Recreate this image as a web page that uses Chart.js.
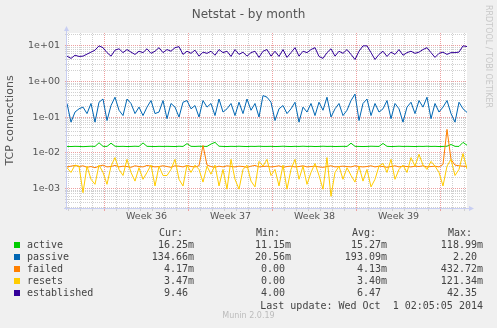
<!DOCTYPE html>
<html>
<head>
<meta charset="utf-8">
<script src="https://cdn.jsdelivr.net/npm/chart.js@4"></script>
<style>
  html, body { margin: 0; padding: 0; background: #f0f0f0; }
  #wrap { position: relative; width: 497px; height: 328px; overflow: hidden; }
  #chart { position: absolute; left: 0; top: 0; }
  .txt { position: absolute; white-space: pre; line-height: 12px; }
  .mono { font: 10px 'DejaVu Sans Mono', monospace; color: #444; }
  .box { position: absolute; width: 6px; height: 6px; }
</style>
</head>
<body>
<div id="wrap">
  <canvas id="chart" width="497" height="328"></canvas>
  <div class="txt" id="title" style="left:0;width:497px;text-align:center;top:7px;font:12px 'DejaVu Sans';color:#555;">Netstat - by month</div>
  <div class="txt" id="rrd" style="left:483px;top:5px;writing-mode:vertical-rl;font:8px 'DejaVu Sans';color:#c8c8c8;line-height:10px;">RRDTOOL / TOBI OETIKER</div>
  <div id="legend"></div>
  <div class="txt mono" id="updated" style="right:14px;top:300px;"></div>
  <div class="txt" id="munin" style="left:0;width:497px;text-align:center;top:311px;font:8px 'DejaVu Sans';color:#bcbcbc;">Munin 2.0.19</div>
</div>
<script>
// x axis: one point every 4px, 12px per day, 400px wide plot
const spanDays = 400 / 12;
const weekStart = 3.13;          // first week boundary, in days from left edge
const weekLabels = ['Week 36', 'Week 37', 'Week 38', 'Week 39'];

const seriesNames = ['active', 'passive', 'failed', 'resets', 'established'];
const seriesColors = ['#00cc00', '#0066b3', '#ff8000', '#ffcc00', '#330099'];

const active = [
  0.0150,0.0149,0.0151,0.0150,0.0148,0.0150,0.0152,0.0150,0.0190,0.0151,0.0150,0.0185,0.0152,0.0150,0.0151,0.0149,0.0150,0.0152,0.0150,0.0188,0.0151,0.0150,0.0149,0.0151,0.0150,
  0.0151,0.0150,0.0149,0.0152,0.0150,0.0180,0.0151,0.0150,0.0152,0.0151,0.0150,0.0175,0.0195,0.0152,0.0150,0.0149,0.0151,0.0150,0.0152,0.0150,0.0149,0.0151,0.0150,0.0152,0.0150,
  0.0150,0.0151,0.0149,0.0150,0.0152,0.0150,0.0149,0.0151,0.0150,0.0152,0.0150,0.0151,0.0149,0.0150,0.0152,0.0150,0.0151,0.0149,0.0150,0.0151,0.0150,0.0185,0.0151,0.0150,0.0149,
  0.0150,0.0152,0.0151,0.0150,0.0182,0.0151,0.0149,0.0150,0.0152,0.0150,0.0151,0.0150,0.0149,0.0151,0.0150,0.0152,0.0150,0.0151,0.0149,0.0150,0.0152,0.0170,0.0151,0.0150,0.0195,0.0162
];
const passive = [
  0.24,0.072,0.138,0.17,0.19,0.125,0.24,0.072,0.26,0.32,0.08,0.21,0.36,0.155,0.11,0.32,0.24,0.125,0.19,0.11,0.19,0.29,0.125,0.138,0.29,
  0.09,0.24,0.19,0.10,0.26,0.29,0.17,0.21,0.10,0.29,0.19,0.24,0.11,0.32,0.138,0.17,0.24,0.11,0.26,0.125,0.32,0.155,0.24,0.10,0.40,
  0.36,0.26,0.08,0.17,0.21,0.125,0.17,0.26,0.072,0.19,0.138,0.24,0.11,0.26,0.155,0.36,0.10,0.17,0.24,0.11,0.155,0.29,0.44,0.08,0.24,
  0.32,0.11,0.24,0.138,0.17,0.29,0.09,0.24,0.17,0.072,0.19,0.26,0.125,0.29,0.19,0.36,0.09,0.24,0.138,0.19,0.29,0.125,0.072,0.26,0.17,0.135
];
const failed = [
  0.0040,0.0042,0.0044,0.0041,0.0043,0.0039,0.0041,0.0038,0.0042,0.0045,0.0040,0.0041,0.0044,0.0040,0.0042,0.0041,0.0039,0.0043,0.0041,0.0040,0.0044,0.0042,0.0040,0.0041,0.0043,
  0.0041,0.0039,0.0043,0.0042,0.0040,0.0044,0.0041,0.0040,0.0043,0.0160,0.0045,0.0041,0.0039,0.0042,0.0040,0.0043,0.0041,0.0040,0.0042,0.0041,0.0039,0.0042,0.0044,0.0040,0.0041,
  0.0042,0.0040,0.0041,0.0043,0.0039,0.0041,0.0042,0.0040,0.0041,0.0043,0.0040,0.0041,0.0042,0.0040,0.0039,0.0041,0.0043,0.0040,0.0041,0.0042,0.0041,0.0040,0.0043,0.0041,0.0040,
  0.0041,0.0043,0.0040,0.0042,0.0041,0.0039,0.0041,0.0043,0.0040,0.0042,0.0041,0.0040,0.0042,0.0041,0.0043,0.0040,0.0041,0.0042,0.0040,0.0047,0.0450,0.0065,0.0045,0.0043,0.0042,0.0041
];
const resets = [
  0.0038,0.0028,0.0045,0.0042,0.00076,0.0042,0.0018,0.0013,0.0045,0.0028,0.0013,0.0042,0.0073,0.0034,0.0023,0.0065,0.0028,0.0016,0.0038,0.0018,0.0028,0.0045,0.00117,0.0042,0.0023,
  0.0023,0.0034,0.0065,0.0018,0.00117,0.0045,0.0028,0.0045,0.0034,0.0015,0.0042,0.0025,0.0045,0.00117,0.0034,0.00095,0.0065,0.0018,0.00095,0.0034,0.0045,0.0016,0.0011,0.0057,0.0042,
  0.0065,0.0023,0.0034,0.00117,0.0045,0.00095,0.0034,0.0065,0.0018,0.0042,0.0013,0.0028,0.0050,0.0023,0.00095,0.0073,0.0006,0.0028,0.0042,0.0018,0.0038,0.0023,0.0015,0.0042,0.0016,
  0.0034,0.0011,0.0018,0.0042,0.0050,0.0028,0.0065,0.0018,0.0034,0.0045,0.0028,0.0073,0.0042,0.0090,0.0045,0.0034,0.0057,0.0042,0.0028,0.00117,0.0042,0.0065,0.0023,0.0034,0.0095,0.0035
];
const established = [
  5.1,4.4,5.4,5.0,5.1,5.8,6.6,7.5,9.9,8.8,6.4,5.1,7.5,8.2,6.4,7.8,6.6,5.7,7.0,6.4,8.2,6.1,7.0,8.8,6.4,
  7.8,7.0,8.8,9.4,5.7,7.0,6.1,7.5,5.1,6.6,6.1,7.0,5.4,7.8,6.4,7.0,5.0,7.8,5.7,6.6,5.1,6.4,7.0,4.7,7.0,
  7.8,5.1,7.0,5.0,7.8,4.7,6.4,8.8,5.1,7.0,6.4,7.8,8.8,5.0,4.4,6.4,8.2,5.1,7.0,6.1,7.8,5.7,4.1,7.0,9.9,
  9.9,6.4,4.1,5.7,7.0,5.0,6.6,5.7,7.8,5.4,6.4,7.0,6.1,6.6,7.8,8.8,6.4,4.7,6.1,6.6,5.7,6.4,6.4,6.6,9.9,9.46
];

const legendCur = ['16.25m', '134.66m', '4.17m', '3.47m', '9.46 '];
const legendMin = ['11.15m', '20.56m', '0.00 ', '0.00 ', '4.00 '];
const legendAvg = ['15.27m', '193.09m', '4.13m', '3.40m', '6.47 '];
const legendMax = ['118.99m', '2.20 ', '432.72m', '121.34m', '42.35 '];
const lastUpdate = 'Last update: Wed Oct  1 02:05:05 2014';

const allSeries = [active, passive, failed, resets, established];

const majorColor = '#eda0a0';
const minorColor = '#d0d0d0';
const axisColor = '#c8cef2';

function isDecade(v) {
  const l = Math.log10(v);
  return Math.abs(l - Math.round(l)) < 1e-6;
}
function fmtExp(v) {
  const e = Math.round(Math.log10(v));
  return '1e' + (e < 0 ? '-' : '+') + String(Math.abs(e)).padStart(2, '0');
}
function isWeekLine(v) {
  const d = (v - weekStart) / 7;
  return Math.abs(d - Math.round(d)) < 1e-6;
}
const labelPos = weekLabels.map((_, i) => weekStart + 3.5 + 7 * i);
function labelIndex(v) {
  return labelPos.findIndex(p => Math.abs(p - v) < 1e-6);
}

const step = spanDays / (active.length - 1);

const datasets = seriesNames.map((name, i) => ({
  label: name,
  data: allSeries[i].map((v, j) => ({ x: j * step, y: v })),
  borderColor: seriesColors[i],
  borderWidth: 1,
  pointRadius: 0,
  tension: 0,
  fill: false,
  order: 5 - i
}));

const plotDecor = {
  id: 'plotDecor',
  beforeDraw(chart) {
    const { ctx, chartArea: a } = chart;
    ctx.save();
    ctx.fillStyle = '#ffffff';
    ctx.fillRect(a.left, a.top, a.right - a.left, a.bottom - a.top);
    ctx.restore();
  },
  afterDraw(chart) {
    const { ctx, chartArea: a } = chart;
    ctx.save();
    ctx.strokeStyle = axisColor;
    ctx.fillStyle = axisColor;
    ctx.lineWidth = 1;
    ctx.beginPath();
    ctx.moveTo(a.left - 0.5, a.bottom + 2);
    ctx.lineTo(a.left - 0.5, a.top - 4);
    ctx.moveTo(a.left - 3, a.bottom + 0.5);
    ctx.lineTo(a.right + 4, a.bottom + 0.5);
    ctx.stroke();
    // arrow heads
    ctx.beginPath();
    ctx.moveTo(a.left - 0.5, a.top - 7);
    ctx.lineTo(a.left - 3, a.top - 2);
    ctx.lineTo(a.left + 2, a.top - 2);
    ctx.closePath();
    ctx.fill();
    ctx.beginPath();
    ctx.moveTo(a.right + 7, a.bottom + 0.5);
    ctx.lineTo(a.right + 2, a.bottom - 2);
    ctx.lineTo(a.right + 2, a.bottom + 3);
    ctx.closePath();
    ctx.fill();
    ctx.restore();
  }
};

new Chart(document.getElementById('chart'), {
  type: 'line',
  data: { datasets },
  plugins: [plotDecor],
  options: {
    responsive: false,
    animation: false,
    devicePixelRatio: 1,
    layout: { padding: { left: 0, top: 33, right: 30, bottom: 100 } },
    plugins: { legend: { display: false }, tooltip: { enabled: false } },
    scales: {
      x: {
        type: 'linear',
        min: 0,
        max: spanDays,
        afterFit: s => { s.height = 20; },
        afterBuildTicks: s => {
          const ticks = [];
          for (let d = weekStart - 3; d <= spanDays; d += 1) ticks.push({ value: Math.round(d * 100) / 100 });
          labelPos.forEach(p => ticks.push({ value: p }));
          ticks.sort((a, b) => a.value - b.value);
          s.ticks = ticks;
        },
        ticks: {
          autoSkip: false,
          maxRotation: 0,
          padding: 0,
          color: '#555',
          font: { family: 'DejaVu Sans', size: 9.5 },
          callback: v => { const k = labelIndex(v); return k >= 0 ? weekLabels[k] : ''; }
        },
        grid: {
          color: c => (c.tick && labelIndex(c.tick.value) >= 0) ? 'transparent' : (c.tick && isWeekLine(c.tick.value) ? majorColor : minorColor),
          tickColor: c => (c.tick && labelIndex(c.tick.value) >= 0) ? 'transparent' : (c.tick && isWeekLine(c.tick.value) ? majorColor : minorColor),
          tickLength: 3,
          lineWidth: 1
        },
        border: { display: false, dash: [1, 1] }
      },
      y: {
        type: 'logarithmic',
        min: 2.82e-4,
        max: 22.7,
        afterFit: s => { s.width = 67; },
        afterBuildTicks: s => {
          const ticks = [];
          for (let e = -4; e <= 1; e++) {
            for (let k = 1; k <= 9; k++) {
              const v = k * Math.pow(10, e);
              if (v >= s.min && v <= s.max) ticks.push({ value: v });
            }
          }
          s.ticks = ticks;
        },
        ticks: {
          autoSkip: false,
          padding: 5,
          color: '#555',
          font: { family: 'DejaVu Sans', size: 9.5 },
          callback: v => isDecade(v) ? fmtExp(v) : ''
        },
        grid: {
          color: c => (c.tick && isDecade(c.tick.value)) ? majorColor : minorColor,
          tickColor: c => (c.tick && isDecade(c.tick.value)) ? majorColor : minorColor,
          tickLength: 2,
          lineWidth: 1
        },
        border: { display: false, dash: [1, 1] },
        title: {
          display: true,
          text: 'TCP connections',
          color: '#555',
          font: { family: 'DejaVu Sans', size: 11 },
          padding: { top: 4, bottom: 4 }
        }
      }
    }
  }
});

// legend block under the plot, Munin style
const legend = document.getElementById('legend');
const headers = [['Cur:', 159], ['Min:', 256], ['Avg:', 352], ['Max:', 448]];
headers.forEach(([t, left]) => {
  const d = document.createElement('div');
  d.className = 'txt mono';
  d.style.left = left + 'px';
  d.style.top = '227px';
  d.textContent = t;
  legend.appendChild(d);
});
const colRights = [303, 206, 110, 14];
const cols = [legendCur, legendMin, legendAvg, legendMax];
seriesNames.forEach((name, i) => {
  const top = 239 + i * 12;
  const box = document.createElement('div');
  box.className = 'box';
  box.style.left = '14px';
  box.style.top = (top + 3) + 'px';
  box.style.background = seriesColors[i];
  legend.appendChild(box);
  const n = document.createElement('div');
  n.className = 'txt mono';
  n.style.left = '27px';
  n.style.top = top + 'px';
  n.textContent = name;
  legend.appendChild(n);
  cols.forEach((col, c) => {
    const d = document.createElement('div');
    d.className = 'txt mono';
    d.style.right = colRights[c] + 'px';
    d.style.top = top + 'px';
    d.textContent = col[i];
    legend.appendChild(d);
  });
});
document.getElementById('updated').textContent = lastUpdate;
</script>
</body>
</html>
